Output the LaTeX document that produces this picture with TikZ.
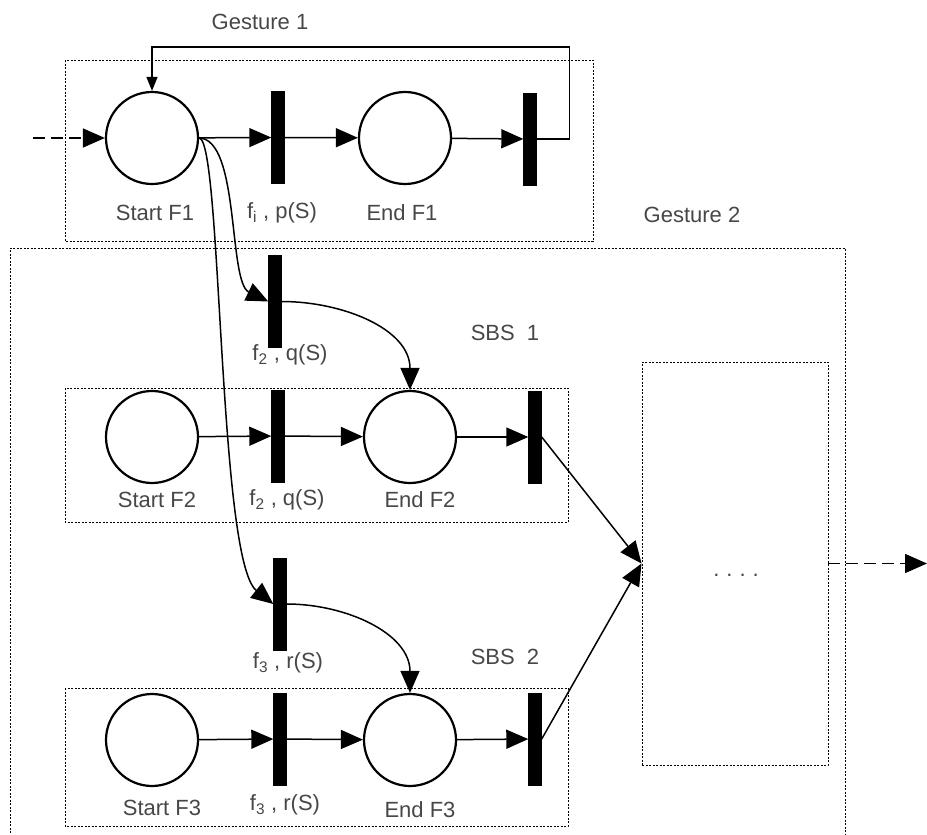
\documentclass[tikz,border=0pt]{standalone}
\usepackage{fontspec}
\setmainfont{Liberation Sans}
\usetikzlibrary{arrows.meta, calc}

\begin{document}
\begin{tikzpicture}[
  x=1pt, y=-1pt,
  font=\fontsize{22}{26}\selectfont,
  place/.style={draw, circle, line width=2.2pt, minimum size=92pt, inner sep=0pt},
  trans/.style={draw, fill=black, rectangle, minimum width=13pt,
                minimum height=92pt, inner sep=0pt},
  lbl/.style={text=black!72, inner sep=0pt},
  group/.style={draw, line width=0.9pt, dash pattern=on 2pt off 1.5pt},
  arc/.style={-{Triangle[length=22pt,width=19pt]}, line width=1.5pt},
  loop/.style={-{Triangle[length=14pt,width=11pt]}, line width=1.5pt},
  ioarc/.style={-{Triangle[length=22pt,width=19pt]}, line width=1.5pt,
                dash pattern=on 12pt off 6pt}
]
\useasboundingbox (0,0) rectangle (927,835);

%% Groups
\draw[group] (65,60) rectangle (593,241);
\draw[group] (10,840) -- (10,248) -- (845,248) -- (845,840);
\draw[group] (65,388) rectangle (568,522);
\draw[group] (65,688) rectangle (568,826);
\node[group, minimum width=186pt, minimum height=403pt] (more) at (735,563.5) {};
\node[lbl] (dots) at (736,575) {.\hspace{7pt}.\hspace{7pt}.\hspace{7pt}.};

%% Gesture 1
\node[place] (start1) at (152,138) {};
\node[trans] (t11)    at (278,137.5) {};
\node[place] (end1)   at (405,138) {};
\node[trans] (t12)    at (530,139) {};

%% SBS 1
\node[place] (start2) at (152,437) {};
\node[trans] (t21)    at (278,436) {};
\node[place] (end2)   at (410,437) {};
\node[trans] (t22)    at (535,437) {};

%% SBS 2
\node[place] (start3) at (152,740) {};
\node[trans] (t31)    at (280,739) {};
\node[place] (end3)   at (410,740) {};
\node[trans] (t32)    at (535,739) {};

%% Choice transitions
\node[trans] (tq) at (275,301.5) {};
\node[trans] (tr) at (280,604) {};

%% Labels
\node[lbl] (g1)   at (260,22)  {Gesture 1};
\node[lbl] (g2)   at (692,215) {Gesture 2};
\node[lbl] (sbs1) at (505,333) {SBS\ \ 1};
\node[lbl] (sbs2) at (505,657) {SBS\ \ 2};
\node[lbl] (ls1)  at (155,213) {Start F1};
\node[lbl] (lp)   at (282,213) {f\textsubscript{i} , p(S)};
\node[lbl] (le1)  at (402,213) {End F1};
\node[lbl] (lq)   at (290,355) {f\textsubscript{2} , q(S)};
\node[lbl] (ls2)  at (157,500) {Start F2};
\node[lbl] (lq2)  at (287,500) {f\textsubscript{2} , q(S)};
\node[lbl] (le2)  at (420,500) {End F2};
\node[lbl] (lr)   at (288,663) {f\textsubscript{3} , r(S)};
\node[lbl] (ls3)  at (162,808) {Start F3};
\node[lbl] (lr2)  at (285,805) {f\textsubscript{3} , r(S)};
\node[lbl] (le3)  at (420,810) {End F3};

%% In / out
\coordinate (in)  at (33,138);
\coordinate (out) at (927,563.5);
\draw[ioarc] (in) -- (start1.west);
\draw[ioarc] (more.east) -- (out);

%% Arcs
\draw[arc] (start1) -- (t11);
\draw[arc] (t11) -- (end1);
\draw[arc] (end1) -- (t12);
\draw[loop] (t12.east) -- ++(33,0) -- ++(0,-92) -| (start1.north);

\draw[arc] (start2) -- (t21);
\draw[arc] (t21) -- (end2);
\draw[arc] (end2) -- (t22);

\draw[arc] (start3) -- (t31);
\draw[arc] (t31) -- (end3);
\draw[arc] (end3) -- (t32);

\draw[arc] (start1.east) .. controls (240,139) and (228,282) .. (tq.west);
\draw[arc] (start1.east) .. controls (222,139) and (218,560) .. (tr.west);
\draw[arc] (tq.east) to[out=0, in=90] (end2.north);
\draw[arc] (tr.east) to[out=0, in=90] (end3.north);

\draw[arc] (t22.east) -- (more.west);
\draw[arc] (t32.east) -- (more.west);

\end{tikzpicture}
\end{document}
